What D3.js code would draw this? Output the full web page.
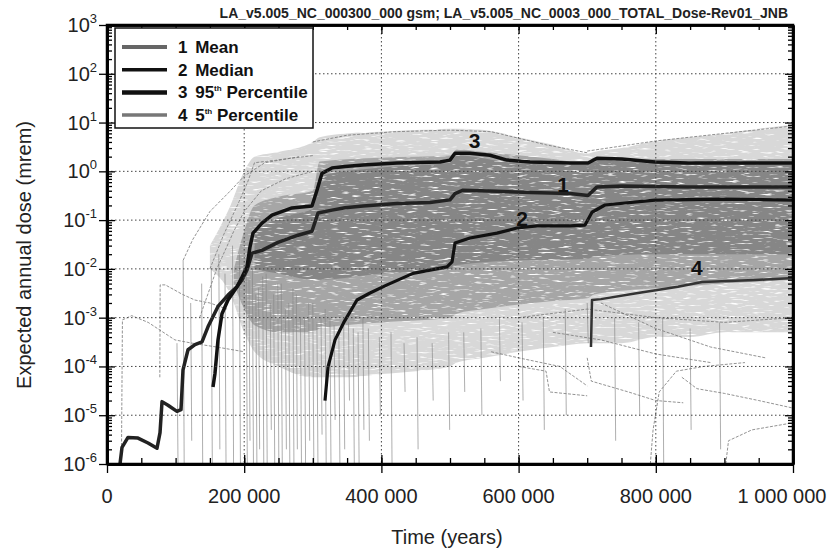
<!DOCTYPE html>
<html>
<head>
<meta charset="utf-8">
<script src="https://cdn.jsdelivr.net/npm/d3@7"></script>
<style>
body { margin: 0; background: #fff; }
svg { display: block; font-family: "Liberation Sans", Arial, sans-serif; }
.grid line { stroke: #444; stroke-dasharray: 1.5,2.5; stroke-width: 1; }
.axis path { stroke: #000; stroke-width: 2.5; }
.axis line { stroke: #000; stroke-width: 1.3; }
.axis .major line { stroke-width: 2; }
</style>
</head>
<body>
<svg width="830" height="556"></svg>
<script>
	//Chart values (time in years, dose in mrem)
var meanTime = [18950, 21900, 30600, 45200, 59800, 72900, 77300, 80200, 88900, 102000,
	107900, 110800, 118100, 128300, 138500, 147200, 161800, 176400, 189500, 196800,
	204100, 211400, 225900, 249300, 278400, 298800, 307600, 328000, 346900, 373200,
	422700, 470800, 500000, 507300, 519000, 568500, 616600, 674900, 701200, 714300,
	750700, 846900, 1000000];
var meanDose = [1e-6, 2.2e-6, 3.5e-6, 3.4e-6, 2.7e-6, 2.1e-6, 4.4e-6, 1.9e-5, 1.6e-5, 1.2e-5,
	1.3e-5, 8.5e-5, 2.2e-4, 2.8e-4, 3.2e-4, 6.5e-4, 1.7e-3, 2.9e-3, 4.3e-3, 5.9e-3,
	9.5e-3, 0.021, 0.024, 0.035, 0.049, 0.059, 0.14, 0.16, 0.18, 0.195,
	0.22, 0.23, 0.26, 0.35, 0.41, 0.39, 0.37, 0.35, 0.32, 0.48,
	0.50, 0.48, 0.48];

var medianTime = [317800, 322200, 332400, 345000, 364400, 383400, 408200, 446100, 495600, 503000,
	507300, 529100, 568500, 597600, 626800, 674900, 696800, 707000, 725900, 798800,
	896500, 1000000];
var medianDose = [2.0e-5, 9.8e-5, 3.5e-4, 7.9e-4, 2.3e-3, 3.2e-3, 4.7e-3, 8.1e-3, 0.011, 0.014,
	0.034, 0.043, 0.054, 0.069, 0.076, 0.076, 0.079, 0.145, 0.204, 0.257,
	0.269, 0.257];

var p95Time = [154500, 157400, 161800, 167600, 176400, 189500, 196800, 204100, 208400, 212800,
	225900, 240500, 269700, 298800, 306100, 313400, 328000, 346900, 373200, 422700,
	485400, 500000, 507300, 529100, 558300, 583100, 616600, 674900, 701200, 714300,
	750700, 798800, 846900, 1000000];
var p95Dose = [3.8e-5, 7.2e-5, 3.5e-4, 1.2e-3, 2.3e-3, 4.3e-3, 6.8e-3, 0.011, 0.028, 0.054,
	0.087, 0.126, 0.178, 0.195, 0.41, 0.91, 1.17, 1.26, 1.35, 1.48,
	1.55, 1.7, 2.34, 2.34, 2.14, 1.7, 1.55, 1.48, 1.48, 1.86,
	1.78, 1.55, 1.48, 1.48];

var p5Time = [705500, 707000, 720000, 774000, 832300, 867300, 944600, 1000000];
var p5Dose = [2.5e-4, 2.3e-3, 2.4e-3, 3.2e-3, 4.3e-3, 5.4e-3, 5.9e-3, 6.5e-3];

	//Envelopes of the realization cloud (light, medium, dense)
var bandATime = [150000, 180000, 200000, 215000, 250000, 300000, 310000, 350000, 400000,
	450000, 500000, 510000, 550000, 600000, 650000, 700000, 710000, 750000, 800000,
	850000, 900000, 950000, 1000000];
var bandAHigh = [0.03, 0.2, 1.0, 2, 2.5, 4, 5, 6, 6.5,
	7, 7.5, 7.5, 7, 5, 3.5, 2.3, 2.5, 3, 4.2,
	5, 6, 7.5, 9];
var bandALow = [0.01, 3e-3, 5e-4, 2e-4, 1e-4, 6e-5, 6e-5, 6e-5, 7e-5,
	8e-5, 1e-4, 1.2e-4, 1.5e-4, 2e-4, 2.5e-4, 3e-4, 3e-4, 3e-4, 4e-4,
	4e-4, 5e-4, 5e-4, 5e-4];

var bandBTime = [185000, 200000, 215000, 250000, 300000, 310000, 400000, 500000, 510000, 550000,
	650000, 700000, 710000, 800000, 900000, 1000000];
var bandBHigh = [0.01, 0.06, 0.2, 0.3, 0.4, 1.6, 1.9, 2.1, 2.8, 2.5, 1.8, 1.5, 1.9, 1.8, 1.8, 1.8];
var bandBLow = [0.005, 1.5e-3, 7e-4, 5e-4, 5e-4, 6e-4, 8e-4, 1e-3, 1.2e-3, 1.5e-3,
	2.2e-3, 2.5e-3, 3e-3, 4e-3, 5e-3, 6e-3];

var bandCTime = [215000, 250000, 300000, 310000, 400000, 500000, 510000, 600000, 700000, 710000,
	800000, 900000, 1000000];
var bandCHigh = [0.06, 0.11, 0.17, 0.8, 1.2, 1.5, 2.1, 1.45, 1.35, 1.7, 1.45, 1.4, 1.4];
var bandCLow = [0.01, 0.008, 0.006, 0.006, 0.008, 0.01, 0.012, 0.015, 0.016, 0.018, 0.02, 0.02, 0.02];

	//Realizations that fall off the cloud toward the bottom
var dropTime = [102000, 111000, 122000, 138000, 152000, 163000, 172000, 183000, 193000, 203000,
	207000, 212000, 217000, 221000, 227000, 232000, 238000, 243000, 249000, 254000,
	260000, 265000, 271000, 276000, 282000, 288000, 294000, 300000, 306000, 312000,
	318000, 325000, 331000, 338000, 345000, 352000, 359000, 366000, 373000, 381000,
	397000, 414000, 433000, 452000, 474000, 498000, 520000, 545000, 572000, 605000,
	636000, 668000, 700000, 740000, 775000, 810000, 850000, 893000];
var dropTop = [3e-4, 0.015, 2e-3, 5e-3, 0.01, 0.02, 8e-3, 0.03, 0.02, 0.01,
	6e-3, 0.01, 3e-3, 4e-3, 7e-3, 8e-3, 2e-3, 3e-3, 5e-3, 5e-3,
	1.5e-3, 2e-3, 4e-3, 3e-3, 1e-3, 1e-3, 2e-3, 2e-3, 8e-4, 1e-3,
	1.5e-3, 1e-3, 7e-4, 5e-4, 1e-3, 8e-4, 6e-4, 5e-4, 1e-3, 6e-4,
	4e-4, 5e-4, 3e-4, 4e-4, 3e-4, 5e-4, 5e-4, 6e-4, 1e-3, 8e-4,
	1e-3, 1.5e-3, 2e-3, 1e-3, 8e-4, 1e-3, 6e-4, 8e-4];
var dropBottom = [1e-6, 1e-6, 3e-6, 1e-6, 1e-6, 2e-6, 1e-6, 1e-6, 1e-6, 1e-6,
	3e-6, 1e-6, 1e-6, 2e-6, 1e-6, 1e-6, 5e-6, 1e-6, 1e-6, 1e-6,
	2e-6, 1e-6, 1e-6, 2e-6, 1e-6, 1e-6, 3e-6, 1e-6, 1e-6, 4e-6,
	1e-6, 1e-6, 8e-6, 1e-6, 2e-6, 2e-5, 1e-6, 1e-6, 5e-6, 3e-6,
	1e-5, 1e-6, 3e-5, 2e-6, 2e-5, 5e-6, 3e-5, 1e-5, 5e-5, 2e-5,
	5e-6, 1e-5, 3e-4, 3e-6, 1e-5, 1e-6, 5e-6, 2e-6];

	//Single realizations that stand out ([time, dose] points)
var sparseRuns = [
	[[21000, 1e-6], [22500, 9e-4], [36000, 1.1e-3], [60000, 8e-4], [99000, 3.5e-4], [124000, 3e-4], [160000, 2.5e-4], [200000, 2e-4]],
	[[77000, 6e-5], [77500, 4.7e-3], [85000, 4.7e-3], [110000, 3e-3], [128000, 2.3e-3], [150000, 2e-3], [175000, 1.5e-3]],
	[[111000, 0.015], [125000, 0.04], [150000, 0.15], [180000, 0.4], [200000, 0.8], [230000, 1.5], [280000, 2]],
	[[150000, 0.01], [170000, 0.05], [190000, 0.2], [205000, 0.6], [215000, 1.5], [300000, 2.1]],
	[[135000, 1e-3], [160000, 0.01], [185000, 0.06], [200000, 0.15], [225000, 0.4], [260000, 0.7], [300000, 1]],
	[[650000, 5e-4], [720000, 3.5e-4], [800000, 1.8e-4], [880000, 1.2e-4]],
	[[838000, 6e-5], [860000, 3.5e-5], [900000, 2.8e-5], [950000, 2e-5], [1000000, 1.4e-5]],
	[[792000, 1e-6], [796000, 5e-6], [805000, 3e-5], [830000, 8e-5], [870000, 1e-4], [930000, 1.2e-4]],
	[[902000, 1e-6], [906000, 3e-6], [940000, 5e-6], [1000000, 7e-6]],
	[[700000, 1.5e-4], [706000, 5e-5], [760000, 3e-5], [800000, 2e-5], [840000, 1.8e-5]],
	[[600000, 1e-4], [640000, 8e-5], [645000, 3e-5], [700000, 2.5e-5]],
	[[720000, 2e-3], [800000, 6e-4], [880000, 2.5e-4], [960000, 1.5e-4]],
	[[560000, 2e-4], [600000, 1.5e-4], [660000, 1e-4], [700000, 4e-5]],
	[[600000, 1e-3], [700000, 1.5e-3], [800000, 1e-3], [900000, 8e-4], [1000000, 1e-3]],
	[[300000, 4], [350000, 5.5], [420000, 6.5], [500000, 7], [560000, 6.5], [640000, 3.5], [700000, 2.4]],
	[[700000, 2.6], [800000, 4.2], [900000, 6], [1000000, 8.5]]
];

	//Curve numbers written on the plot
var curveLabel = ["1", "2", "3", "4"];
var curveLabelTime = [665000, 605000, 536000, 860000];
var curveLabelDose = [0.53, 0.11, 4.4, 0.0105];

	//Legend entries
var legendNum = ["1", "2", "3", "4"];
var legendMain = ["Mean", "Median", "95", "5"];
var legendSup = ["", "", "th", "th"];
var legendRest = ["", "", " Percentile", " Percentile"];

var titleText = "LA_v5.005_NC_000300_000 gsm; LA_v5.005_NC_0003_000_TOTAL_Dose-Rev01_JNB";
var xTicks = [0, 200000, 400000, 600000, 800000, 1000000];
var yDecades = [1e-6, 1e-5, 1e-4, 1e-3, 1e-2, 1e-1, 1e0, 1e1, 1e2, 1e3];

	//Set the dimensions for the canvas
var svg = d3.select("svg"),
    margin = {top: 25, right: 37, bottom: 92, left: 107},
    width = +svg.attr("width") - margin.left - margin.right,
    height = +svg.attr("height") - margin.top - margin.bottom,
    g = svg.append("g").attr("transform", "translate(" + margin.left + "," + margin.top + ")");

	//Set the ranges
var x = d3.scaleLinear().domain([0, 1000000]).range([0, width]),
	y = d3.scaleLog().domain([1e-6, 1e3]).range([height, 0]);

function pairs(t, v) {
	return t.map(function(d, i) { return {t: d, v: v[i]}; });
}
function band(t, hi, lo) {
	return t.map(function(d, i) { return {t: d, hi: hi[i], lo: lo[i]}; });
}

var line = d3.line()
	.x(function(d) { return x(d.t); })
	.y(function(d) { return y(d.v); });
var runLine = d3.line()
	.x(function(d) { return x(d[0]); })
	.y(function(d) { return y(d[1]); });
var area = d3.area()
	.x(function(d) { return x(d.t); })
	.y0(function(d) { return y(d.lo); })
	.y1(function(d) { return y(d.hi); })
	.curve(d3.curveMonotoneX);

var defs = svg.append("defs");
defs.append("clipPath").attr("id", "clip")
	.append("rect").attr("width", width).attr("height", height);

	//streaky speckle so the cloud looks like many thin lines
var speckle = defs.append("filter").attr("id", "speckle")
	.attr("filterUnits", "userSpaceOnUse")
	.attr("x", 0).attr("y", 0).attr("width", width).attr("height", height);
speckle.append("feTurbulence")
	.attr("type", "fractalNoise").attr("baseFrequency", "0.09 0.55")
	.attr("numOctaves", 2).attr("seed", 7).attr("result", "noise");
speckle.append("feColorMatrix")
	.attr("in", "noise").attr("type", "matrix")
	.attr("values", "0 0 0 0 0  0 0 0 0 0  0 0 0 0 0  4.5 0 0 0 -0.85")
	.attr("result", "mask");
speckle.append("feComposite")
	.attr("in", "SourceGraphic").attr("in2", "mask").attr("operator", "in");

var plot = g.append("g").attr("clip-path", "url(#clip)");

	//Realization cloud
var cloud = plot.append("g").attr("filter", "url(#speckle)");
cloud.append("path").datum(band(bandATime, bandAHigh, bandALow))
	.attr("d", area).attr("fill", "#999").attr("opacity", 0.38);
cloud.append("path").datum(band(bandBTime, bandBHigh, bandBLow))
	.attr("d", area).attr("fill", "#8c8c8c").attr("opacity", 0.65);
cloud.append("path").datum(band(bandCTime, bandCHigh, bandCLow))
	.attr("d", area).attr("fill", "#7e7e7e").attr("opacity", 0.8);

plot.selectAll(".drop")
	.data(dropTime)
	.enter().append("line")
	.attr("class", "drop")
	.attr("x1", function(d) { return x(d); })
	.attr("x2", function(d) { return x(d + 1500); })
	.attr("y1", function(d, i) { return y(dropTop[i]); })
	.attr("y2", function(d, i) { return y(dropBottom[i]); })
	.attr("stroke", "#888").attr("stroke-width", 0.8).attr("opacity", 0.85);

plot.selectAll(".run")
	.data(sparseRuns)
	.enter().append("path")
	.attr("class", "run")
	.attr("d", runLine)
	.attr("fill", "none")
	.attr("stroke", "#777").attr("stroke-width", 0.8)
	.attr("stroke-dasharray", "3,1.5");

	//Grid lines
var grid = g.append("g").attr("class", "grid");
grid.selectAll(".hg")
	.data(yDecades.slice(1, -1))
	.enter().append("line")
	.attr("x1", 0).attr("x2", width)
	.attr("y1", function(d) { return y(d); })
	.attr("y2", function(d) { return y(d); });
grid.selectAll(".vg")
	.data(xTicks.slice(1, -1))
	.enter().append("line")
	.attr("y1", 0).attr("y2", height)
	.attr("x1", function(d) { return x(d); })
	.attr("x2", function(d) { return x(d); });

	//Statistics curves
var curves = [
	{data: pairs(meanTime, meanDose), color: "#222", w: 3.5},
	{data: pairs(p95Time, p95Dose), color: "#111", w: 3.5},
	{data: pairs(medianTime, medianDose), color: "#111", w: 3.2},
	{data: pairs(p5Time, p5Dose), color: "#333", w: 2.5}
];
plot.selectAll(".stat")
	.data(curves)
	.enter().append("path")
	.attr("class", "stat")
	.attr("d", function(d) { return line(d.data); })
	.attr("fill", "none")
	.attr("stroke", function(d) { return d.color; })
	.attr("stroke-width", function(d) { return d.w; })
	.attr("stroke-linejoin", "round");

g.selectAll(".clabel")
	.data(curveLabel)
	.enter().append("text")
	.attr("class", "clabel")
	.attr("x", function(d, i) { return x(curveLabelTime[i]); })
	.attr("y", function(d, i) { return y(curveLabelDose[i]); })
	.attr("dy", "0.36em")
	.attr("text-anchor", "middle")
	.attr("font-size", 21).attr("font-weight", "bold").attr("fill", "#111")
	.text(function(d) { return d; });

	//Axes and ticks
var minors = y.ticks().filter(function(d) { return yDecades.indexOf(d) < 0; }),
	xMinor = d3.range(0, 1000001, 50000);

function addAxis(axis, tx, ty, cls) {
	return g.append("g")
		.attr("class", "axis " + (cls || ""))
		.attr("transform", "translate(" + tx + "," + ty + ")")
		.call(axis.tickSizeOuter(0).tickFormat(""));
}
// left
addAxis(d3.axisLeft(y).tickValues(yDecades).tickSize(8), 0, 0, "major");
addAxis(d3.axisRight(y).tickValues(minors).tickSize(5), 0, 0);
addAxis(d3.axisRight(y).tickValues(yDecades).tickSize(8), 0, 0, "major");
// right
addAxis(d3.axisLeft(y).tickValues(minors).tickSize(5), width, 0);
addAxis(d3.axisLeft(y).tickValues(yDecades).tickSize(8), width, 0, "major");
// bottom
addAxis(d3.axisBottom(x).tickValues(xTicks).tickSize(9), 0, height, "major");
addAxis(d3.axisTop(x).tickValues(xMinor).tickSize(6), 0, height);
addAxis(d3.axisTop(x).tickValues(xTicks).tickSize(9), 0, height, "major");
// top
addAxis(d3.axisBottom(x).tickValues(xMinor).tickSize(5), 0, 0);
addAxis(d3.axisBottom(x).tickValues(xTicks).tickSize(9), 0, 0, "major");

g.append("rect").attr("width", width).attr("height", height)
	.attr("fill", "none").attr("stroke", "#000").attr("stroke-width", 2.5);

	//Tick labels
var yl = g.selectAll(".ylab")
	.data(yDecades)
	.enter().append("text")
	.attr("class", "ylab")
	.attr("x", -10)
	.attr("y", function(d) { return y(d) + 7; })
	.attr("text-anchor", "end")
	.attr("font-size", 20).attr("fill", "#222");
yl.append("tspan").text("10");
yl.append("tspan").attr("dy", -9).attr("font-size", 13)
	.text(function(d) { return Math.round(Math.log10(d)); });

var fmt = d3.format(",");
g.selectAll(".xlab")
	.data(xTicks)
	.enter().append("text")
	.attr("class", "xlab")
	.attr("x", function(d) { return x(d); })
	.attr("y", height + 39)
	.attr("dx", function(d, i) { return i === xTicks.length - 1 ? -11 : 0; })
	.attr("text-anchor", "middle")
	.attr("font-size", 20).attr("fill", "#222")
	.text(function(d) { return fmt(d).replace(/,/g, " "); });

	//Titles
svg.append("text")
	.attr("x", 788).attr("y", 18)
	.attr("text-anchor", "end")
	.attr("font-size", 14).attr("font-weight", "bold").attr("fill", "#222")
	.text(titleText);
svg.append("text")
	.attr("transform", "translate(31," + 255 + ") rotate(-90)")
	.attr("text-anchor", "middle")
	.attr("font-size", 20).attr("fill", "#222")
	.text("Expected annual dose (mrem)");
svg.append("text")
	.attr("x", 447).attr("y", 544)
	.attr("text-anchor", "middle")
	.attr("font-size", 20).attr("fill", "#222")
	.text("Time (years)");

	//Legend
var legendStyle = [
	{color: "#666", w: 4},
	{color: "#111", w: 3.5},
	{color: "#111", w: 4.5},
	{color: "#777", w: 3.5}
];
var legend = g.append("g").attr("transform", "translate(8,3)");
legend.append("rect")
	.attr("width", 198).attr("height", 100)
	.attr("fill", "#fff").attr("stroke", "#111").attr("stroke-width", 1.5);
var item = legend.selectAll(".item")
	.data(legendNum)
	.enter().append("g")
	.attr("class", "item")
	.attr("transform", function(d, i) { return "translate(0," + (19 + i * 22.7) + ")"; });
item.append("line")
	.attr("x1", 7).attr("x2", 52)
	.attr("stroke", function(d, i) { return legendStyle[i].color; })
	.attr("stroke-width", function(d, i) { return legendStyle[i].w; });
var lt = item.append("text")
	.attr("x", 63).attr("y", 6)
	.attr("font-size", 17).attr("font-weight", "bold").attr("fill", "#111");
lt.append("tspan").text(function(d) { return d + " "; });
lt.append("tspan").attr("dx", 3).text(function(d, i) { return legendMain[i]; });
lt.append("tspan").attr("dy", -7).attr("font-size", 8)
	.text(function(d, i) { return legendSup[i]; });
lt.append("tspan").attr("dy", 7)
	.text(function(d, i) { return legendRest[i]; });
</script>
</body>
</html>
